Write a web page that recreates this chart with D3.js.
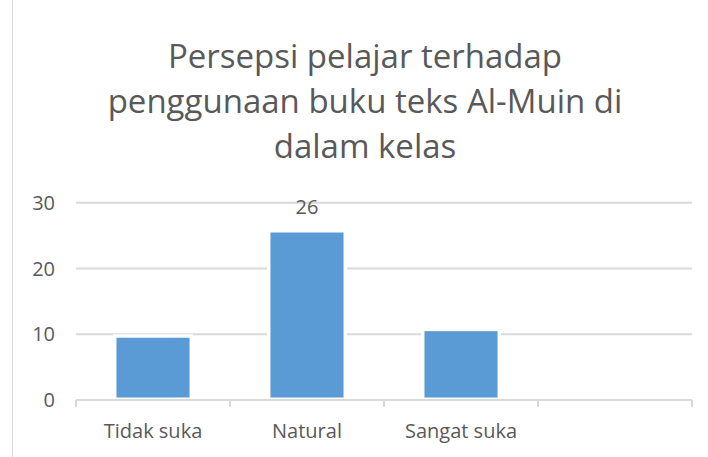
<!DOCTYPE html>
<html><head><meta charset="utf-8">
<script src="https://cdn.jsdelivr.net/npm/d3@7"></script>
<style>body{margin:0;background:#fff}svg{display:block}text{font-family:"Open Sans","Noto Sans",sans-serif}</style>
</head><body>
<svg id="c" width="708" height="457"></svg>
<script>
const titleLines = ["Persepsi pelajar terhadap", "penggunaan buku teks Al-Muin di", "dalam kelas"];
const categories = ["Tidak suka", "Natural", "Sangat suka", ""];
const values = [10, 26, 11, null];
const labelled = [false, true, false, false];
const yTicks = [0, 10, 20, 30];

const svg = d3.select("#c");
const m = {left: 76, right: 692, top: 202.7, bottom: 400};
const x = d3.scaleBand().domain(d3.range(categories.length)).range([m.left, m.right]).padding(0);
const y = d3.scaleLinear().domain([0, 30]).range([m.bottom, m.top]);
const txt = "#595959", grid = "#d9d9d9";

// left border
svg.append("line").attr("x1",12.5).attr("x2",12.5).attr("y1",0).attr("y2",457).attr("stroke",grid).attr("stroke-width",1);

// title
const t = svg.append("text").attr("text-anchor","middle").attr("fill",txt).attr("font-size",33);
titleLines.forEach((l,i)=>t.append("tspan").attr("x",365).attr("y",68+i*45).text(l));

// gridlines
svg.append("g").selectAll("line").data(yTicks.filter(d=>d>0)).join("line")
  .attr("x1",m.left).attr("x2",m.right).attr("y1",d=>y(d)).attr("y2",d=>y(d))
  .attr("stroke",grid).attr("stroke-width",2);

// y labels
svg.append("g").selectAll("text").data(yTicks).join("text")
  .attr("x",55).attr("y",d=>y(d)).attr("dy","0.36em").attr("text-anchor","end")
  .attr("fill",txt).attr("font-size",20).text(d=>d);

// bars
const data = categories.map((c,i)=>({c, v: values[i], i, lab: labelled[i]})).filter(d=>d.v!=null);
const bw = x.bandwidth()*0.52, inset = 3.5;
const bars = svg.append("g");
bars.selectAll("rect.o").data(data).join("rect").attr("class","o")
  .attr("x",d=>x(d.i)+x.bandwidth()/2-bw/2).attr("width",bw)
  .attr("y",d=>y(d.v)).attr("height",d=>y(0)-y(d.v)).attr("fill","#fff");
bars.selectAll("rect.i").data(data).join("rect").attr("class","i")
  .attr("x",d=>x(d.i)+x.bandwidth()/2-bw/2+inset).attr("width",bw-2*inset)
  .attr("y",d=>y(d.v)+inset).attr("height",d=>y(0)-y(d.v)-inset-2.5).attr("fill","#5b9bd5");

// data labels
svg.append("g").selectAll("text").data(data.filter(d=>d.lab)).join("text")
  .attr("x",d=>x(d.i)+x.bandwidth()/2).attr("y",d=>y(d.v)-15.5).attr("text-anchor","middle")
  .attr("fill",txt).attr("font-size",20).text(d=>d.v);

// x axis
const xa = svg.append("g").attr("transform",`translate(0,${m.bottom})`);
xa.append("line").attr("x1",m.left).attr("x2",m.right).attr("stroke",grid).attr("stroke-width",2);
xa.selectAll("line.t").data(d3.range(categories.length+1)).join("line").attr("class","t")
  .attr("x1",i=>m.left+i*x.bandwidth()).attr("x2",i=>m.left+i*x.bandwidth())
  .attr("y1",0).attr("y2",7).attr("stroke",grid).attr("stroke-width",2);
xa.selectAll("text").data(categories).join("text")
  .attr("x",(d,i)=>x(i)+x.bandwidth()/2).attr("y",38).attr("text-anchor","middle")
  .attr("fill",txt).attr("font-size",20).text(d=>d);
</script>
</body></html>
